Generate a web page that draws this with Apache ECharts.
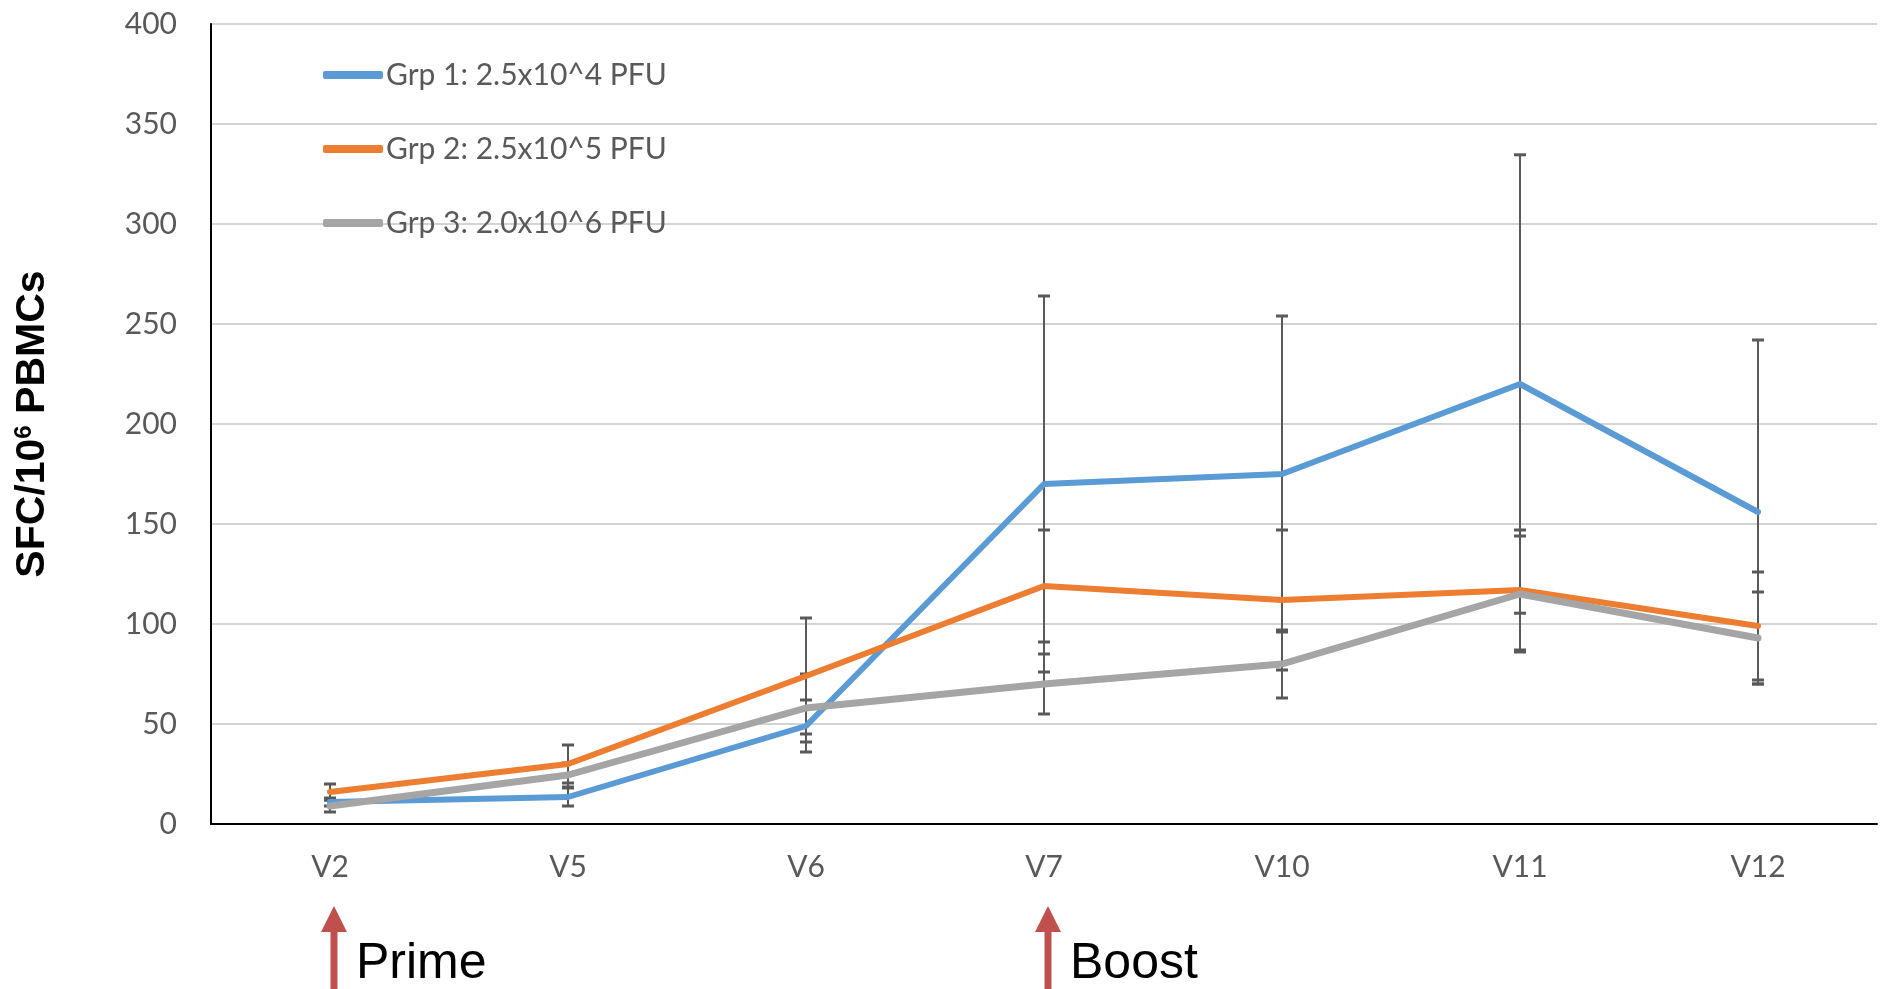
<!DOCTYPE html>
<html>
<head>
<meta charset="utf-8">
<script src="https://cdn.jsdelivr.net/npm/echarts@6/dist/echarts.min.js"></script>
<style>
html,body{margin:0;padding:0;background:#fff;}
#chart{width:1881px;height:989px;}
</style>
</head>
<body>
<div id="chart"></div>
<script>
const categories = ['V2', 'V5', 'V6', 'V7', 'V10', 'V11', 'V12'];
const seriesNames = ['Grp 1: 2.5x10^4 PFU', 'Grp 2: 2.5x10^5 PFU', 'Grp 3: 2.0x10^6 PFU'];
const grp1Mean = [11, 13.5, 49, 170, 175, 220, 156];
const grp1Err  = [2, 4.5, 13, 94, 79, 114.6, 86];
const grp2Mean = [16, 30, 74, 119, 112, 117, 99];
const grp2Err  = [4, 9.5, 29, 28, 35, 30, 27];
const grp3Mean = [9, 24.5, 58, 70, 80, 115, 93];
const grp3Err  = [3, 6, 17, 15, 17, 29, 23];
const annotations = [['V2', 'Prime'], ['V7', 'Boost']];

const colors = ['#5b9bd5', '#ed7d31', '#a5a5a5'];
const means = [grp1Mean, grp2Mean, grp3Mean];
const errs = [grp1Err, grp2Err, grp3Err];

const chart = echarts.init(document.getElementById('chart'));

function errData(m, e) {
  return m.map((v, i) => [i, v - e[i], v + e[i]]);
}

function renderErr(params, api) {
  const lo = api.coord([api.value(0), api.value(1)]);
  const hi = api.coord([api.value(0), api.value(2)]);
  const cw = 6;
  const st = { stroke: '#595959', lineWidth: 2 };
  return {
    type: 'group',
    children: [
      { type: 'line', shape: { x1: lo[0], y1: lo[1], x2: hi[0], y2: hi[1] }, style: st },
      { type: 'line', shape: { x1: lo[0] - cw, y1: lo[1], x2: lo[0] + cw, y2: lo[1] }, style: { stroke: '#595959', lineWidth: 3 } },
      { type: 'line', shape: { x1: hi[0] - cw, y1: hi[1], x2: hi[0] + cw, y2: hi[1] }, style: { stroke: '#595959', lineWidth: 3 } }
    ]
  };
}

const series = [];
means.forEach((m, k) => {
  series.push({
    type: 'custom',
    name: 'err' + k,
    renderItem: renderErr,
    encode: { x: 0, y: [1, 2] },
    data: errData(m, errs[k]),
    z: 1,
    silent: true
  });
});
means.forEach((m, k) => {
  series.push({
    type: 'line',
    name: seriesNames[k],
    data: m,
    symbol: 'none',
    lineStyle: { color: colors[k], width: k === 2 ? 7 : 6, cap: 'round', join: 'round' },
    itemStyle: { color: colors[k] },
    z: 3
  });
});

chart.setOption({
  animation: false,
  backgroundColor: '#ffffff',
  grid: { left: 211, right: 4, top: 24, bottom: 165, containLabel: false },
  legend: {
    data: seriesNames,
    orient: 'vertical',
    left: 318,
    top: 54,
    icon: 'roundRect',
    itemWidth: 60,
    itemHeight: 8,
    itemGap: 42,
    textStyle: { fontFamily: 'Lato', fontSize: 30, color: '#595959', lineHeight: 32, padding: [0, 0, 0, -2] }
  },
  xAxis: {
    type: 'category',
    data: categories,
    boundaryGap: true,
    axisLine: { lineStyle: { color: '#000', width: 2 } },
    axisTick: { show: false },
    axisLabel: { fontFamily: 'Lato', fontSize: 30, color: '#595959', margin: 28 },
    splitLine: { show: false }
  },
  yAxis: {
    type: 'value',
    min: 0,
    max: 400,
    interval: 50,
    name: 'SFC/10{sup|6} PBMCs',
    nameLocation: 'middle',
    nameGap: 158,
    nameTextStyle: {
      fontFamily: 'Liberation Sans',
      fontWeight: 'bold',
      fontSize: 41,
      color: '#000',
      rich: {
        sup: { fontFamily: 'Liberation Sans', fontWeight: 'bold', fontSize: 24, color: '#000', verticalAlign: 'top', padding: [0, 0, 15, 0] }
      }
    },
    axisLine: { show: true, lineStyle: { color: '#000', width: 2 } },
    axisTick: { show: false },
    axisLabel: { fontFamily: 'Lato', fontSize: 30, color: '#595959', margin: 34 },
    splitLine: { lineStyle: { color: '#d4d4d4', width: 2 } }
  },
  series: series
});

const graphics = [];
annotations.forEach(([cat, label]) => {
  const x = chart.convertToPixel({ xAxisIndex: 0 }, cat) + 4;
  graphics.push({
    type: 'polygon',
    shape: { points: [[x, 906], [x - 13, 932], [x + 13, 932]] },
    style: { fill: '#c0504d' },
    z: 10
  });
  graphics.push({
    type: 'rect',
    shape: { x: x - 3.5, y: 930, width: 7, height: 60 },
    style: { fill: '#c0504d' },
    z: 10
  });
  graphics.push({
    type: 'text',
    x: x + 22,
    y: 964,
    style: { text: label, font: '50px "Liberation Sans"', fill: '#000', textVerticalAlign: 'middle', textAlign: 'left' },
    z: 10
  });
});
chart.setOption({ graphic: graphics });
</script>
</body>
</html>
